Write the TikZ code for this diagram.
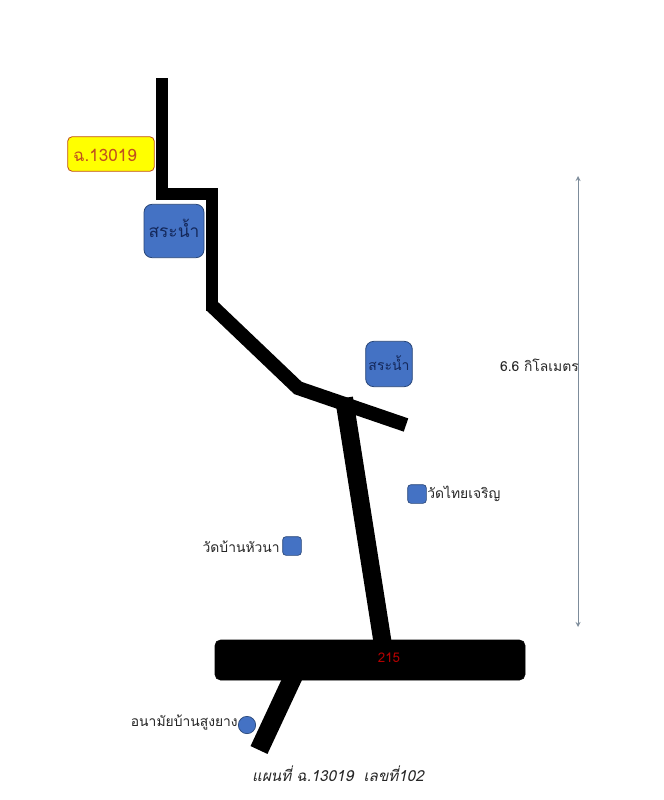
\documentclass[tikz,border=0pt]{standalone}
\usepackage{fontspec}
\usetikzlibrary{arrows,shapes,calc}
\setmainfont{Liberation Sans}
\newfontfamily\thaifont[Script=Thai]{Loma}
\definecolor{blue@pond}{RGB}{68, 114, 196}
\definecolor{blue@edge}{RGB}{40, 70, 120}
\definecolor{blue@ink}{RGB}{20, 40, 90}
\definecolor{gray@dist}{RGB}{125, 140, 155}
\definecolor{yellow@tag}{RGB}{255, 255, 0}
\definecolor{red@tag}{RGB}{192, 80, 30}

\begin{document}
\begin{tikzpicture}[x=0.75pt, y=-0.75pt, font=\thaifont]
  \tikzstyle{road}=[draw=black, line width=8.5pt, line cap=butt, line join=miter]
  \tikzstyle{midroad}=[draw=black, line width=10.5pt, line cap=butt, line join=miter]
  \tikzstyle{bigroad}=[draw=black, line width=14pt, line cap=butt]
  \tikzstyle{pond}=[draw=blue@edge, line width=0.6pt, fill=blue@pond, rounded corners=6pt, inner sep=0pt, text=blue@ink]
  \tikzstyle{temple}=[draw=blue@edge, line width=0.5pt, fill=blue@pond, rounded corners=2.5pt, minimum size=14pt, inner sep=0pt]
  \tikzstyle{place_text}=[text=black!85, font=\thaifont\fontsize{10.4}{12}\selectfont, inner sep=0pt]
  \tikzstyle{dist_arrow}=[draw=gray@dist, line width=0.7pt, stealth-stealth]

  \useasboundingbox (0,0) rectangle (664,800);
  \fill[white] (0,0) rectangle (664,800);

  \coordinate(A) at (162,78);
  \coordinate(B) at (162,194);
  \coordinate(C) at (212,194);
  \coordinate(D) at (212,311);
  \coordinate(E) at (212,306);
  \coordinate(F) at (298,388);
  \coordinate(G) at (406,425);
  \coordinate(H) at (344,398);
  \coordinate(I) at (383,645);
  \coordinate(J) at (294,675);
  \coordinate(K) at (259,750);
  \coordinate(L) at (578,176);
  \coordinate(M) at (578,627);

  % main road
  \draw[road] (A) -- (B) -- (C) -- (D);
  \draw[midroad] (E) -- (F) -- (G);
  \draw[midroad, line width=13.5pt] (H) -- (I);
  \draw[bigroad] (J) -- (K);

  % highway
  \node[draw=black, fill=black, rounded corners=4pt, minimum width=232.5pt, minimum height=30pt, inner sep=0pt] (highway) at (370,660) {};
  \node[text=red!70!black, font=\thaifont\fontsize{10}{12}\selectfont, inner sep=0pt] (highwaytext) at (389,658) {215};

  % places
  \node[draw=red@tag, line width=0.6pt, fill=yellow@tag, rounded corners=3.5pt, minimum width=65pt, minimum height=26pt, inner sep=0pt] (tag) at (111,154) {};
  \node[text=red@tag, font=\thaifont\fontsize{12.8}{14}\selectfont, inner sep=0pt] (tagtext) at (105,155) {ฉ.13019};
  \node[pond, minimum width=45pt, minimum height=40pt, font=\thaifont\fontsize{13}{16}\selectfont] (pond1) at (174,231) {\raisebox{3.5pt}{สระน้ำ}};
  \node[pond, minimum width=35pt, minimum height=34pt, font=\thaifont\fontsize{10.5}{12}\selectfont] (pond2) at (389,364) {\raisebox{2pt}{สระน้ำ}};

  \node[temple] (temple1) at (417,494) {};
  \node[place_text, anchor=west] (temple1text) at (427,494) {วัดไทยเจริญ};
  \node[temple] (temple2) at (292,546) {};
  \node[place_text, anchor=east] (temple2text) at (280,547) {วัดบ้านหัวนา};
  \node[circle, draw=blue@edge, line width=0.5pt, fill=blue@pond, minimum size=13pt, inner sep=0pt] (clinic) at (247,725) {};
  \node[place_text, anchor=east] (clinictext) at (238,723) {อนามัยบ้านสูงยาง};

  % distance
  \draw[dist_arrow] (L) -- (M);
  \node[place_text, anchor=east] (disttext) at (579,365) {6.6 กิโลเมตร};

  \node[place_text, font=\thaifont\itshape\fontsize{11.4}{13}\selectfont] (caption) at (338,774) {แผนที่ ฉ.13019~~เลขที่102};
\end{tikzpicture}
\end{document}
